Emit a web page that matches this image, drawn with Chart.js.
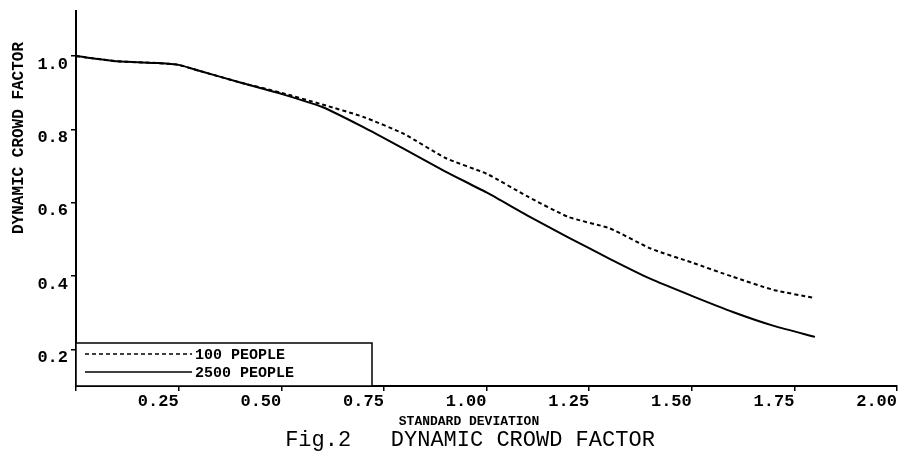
<!DOCTYPE html>
<html>
<head>
<meta charset="utf-8">
<script src="https://cdn.jsdelivr.net/npm/chart.js@4/dist/chart.umd.min.js"></script>
<style>
    body { margin: 0; background: #fff; }
    canvas { display: block; }
</style>
</head>
<body>
<canvas id="myChart" width="903" height="453"></canvas>
<script>
// values
const sdValues = [0, 0.1, 0.2, 0.25, 0.3, 0.4, 0.5, 0.6, 0.7, 0.8, 0.9, 1.0, 1.1, 1.2, 1.3, 1.4, 1.5, 1.6, 1.7, 1.8];
const people100 = [1.0, 0.986, 0.981, 0.976, 0.96, 0.928, 0.9, 0.868, 0.834, 0.787, 0.722, 0.679, 0.617, 0.561, 0.53, 0.475, 0.437, 0.398, 0.362, 0.34];
const people2500 = [1.0, 0.986, 0.981, 0.976, 0.96, 0.928, 0.897, 0.861, 0.806, 0.746, 0.685, 0.628, 0.565, 0.505, 0.447, 0.392, 0.346, 0.302, 0.264, 0.234];
const seriesLabels = ['100 PEOPLE', '2500 PEOPLE'];
const xTicks = [0, 0.25, 0.5, 0.75, 1.0, 1.25, 1.5, 1.75, 2.0];
const yTicks = [0.2, 0.4, 0.6, 0.8, 1.0];
const xTitle = 'STANDARD DEVIATION';
const yTitle = 'DYNAMIC CROWD FACTOR';
const figTitle = 'Fig.2   DYNAMIC CROWD FACTOR';

function toPoints(values) {
    let data = [];
    for (let i = 0; i < values.length; i++) {
        data.push({ x: sdValues[i], y: values[i] });
    }
    return data;
}

// legend box sitting in the lower left corner of the plot
const boxLegend = {
    id: 'boxLegend',
    afterDatasetsDraw(chart) {
        const ctx = chart.ctx;
        const area = chart.chartArea;
        const left = area.left, top = area.bottom - 43, w = 296, h = 43;
        ctx.save();
        ctx.fillStyle = '#fff';
        ctx.fillRect(left, top, w, h);
        ctx.strokeStyle = '#000';
        ctx.lineWidth = 1.5;
        ctx.strokeRect(left, top, w, h);
        ctx.font = 'bold 15px "Liberation Mono"';
        ctx.textBaseline = 'middle';
        ctx.fillStyle = '#000';
        chart.data.datasets.forEach((ds, i) => {
            const y = top + 11 + i * 18;
            ctx.beginPath();
            ctx.setLineDash(ds.borderDash || []);
            ctx.lineWidth = 1.5;
            ctx.moveTo(left + 9, y);
            ctx.lineTo(left + 116, y);
            ctx.stroke();
            ctx.setLineDash([]);
            ctx.fillText(ds.label, left + 119, y + 1);
        });
        ctx.restore();
    }
};

// axis titles and figure caption
const captions = {
    id: 'captions',
    afterDraw(chart) {
        const ctx = chart.ctx;
        ctx.save();
        ctx.fillStyle = '#000';
        ctx.textAlign = 'center';
        ctx.textBaseline = 'middle';
        ctx.font = 'bold 13px "Liberation Mono"';
        ctx.fillText(xTitle, 469, 422);
        ctx.font = '22px "Liberation Mono"';
        ctx.fillText(figTitle, 470, 440);
        ctx.translate(19, 138);
        ctx.rotate(-Math.PI / 2);
        ctx.font = 'bold 16px "Liberation Mono"';
        ctx.fillText(yTitle, 0, 0);
        ctx.restore();
    }
};

const tickFont = { family: '"Liberation Mono"', size: 17, weight: 'bold' };

const ctx = document.getElementById('myChart');
const myChart = new Chart(ctx, {
    type: 'line',
    data: {
        datasets: [{
            label: seriesLabels[0],
            data: toPoints(people100),
            borderColor: '#000',
            borderWidth: 2,
            borderDash: [4, 3],
            pointRadius: 0,
            tension: 0.2,
            fill: false
        }, {
            label: seriesLabels[1],
            data: toPoints(people2500),
            borderColor: '#000',
            borderWidth: 2,
            pointRadius: 0,
            tension: 0.2,
            fill: false
        }]
    },
    options: {
        responsive: false,
        animation: false,
        layout: {
            padding: { left: 0, right: 6, top: 11, bottom: 0 }
        },
        scales: {
            x: {
                type: 'linear',
                min: 0,
                max: 2.0,
                afterBuildTicks: (scale) => {
                    scale.ticks = xTicks.map(v => ({ value: v }));
                },
                afterFit: (scale) => {
                    scale.height = 67;
                },
                ticks: {
                    align: 'end',
                    padding: 1,
                    color: '#000',
                    font: tickFont,
                    maxRotation: 0,
                    callback: (value) => value == 0 ? '' : value.toFixed(2)
                },
                grid: {
                    drawOnChartArea: false,
                    tickLength: 5,
                    color: '#000',
                    lineWidth: 1.5
                },
                border: { color: '#000', width: 2 }
            },
            y: {
                type: 'linear',
                min: 0.1,
                max: 1.123,
                afterBuildTicks: (scale) => {
                    scale.ticks = yTicks.map(v => ({ value: v }));
                },
                afterFit: (scale) => {
                    scale.width = 76;
                },
                ticks: {
                    align: 'start',
                    padding: 3,
                    color: '#000',
                    font: tickFont,
                    callback: (value) => value.toFixed(1)
                },
                grid: {
                    drawOnChartArea: false,
                    tickLength: 5,
                    color: '#000',
                    lineWidth: 1.5
                },
                border: { color: '#000', width: 2 }
            }
        },
        plugins: {
            legend: { display: false },
            tooltip: { enabled: false }
        }
    },
    plugins: [boxLegend, captions]
});
</script>
</body>
</html>
